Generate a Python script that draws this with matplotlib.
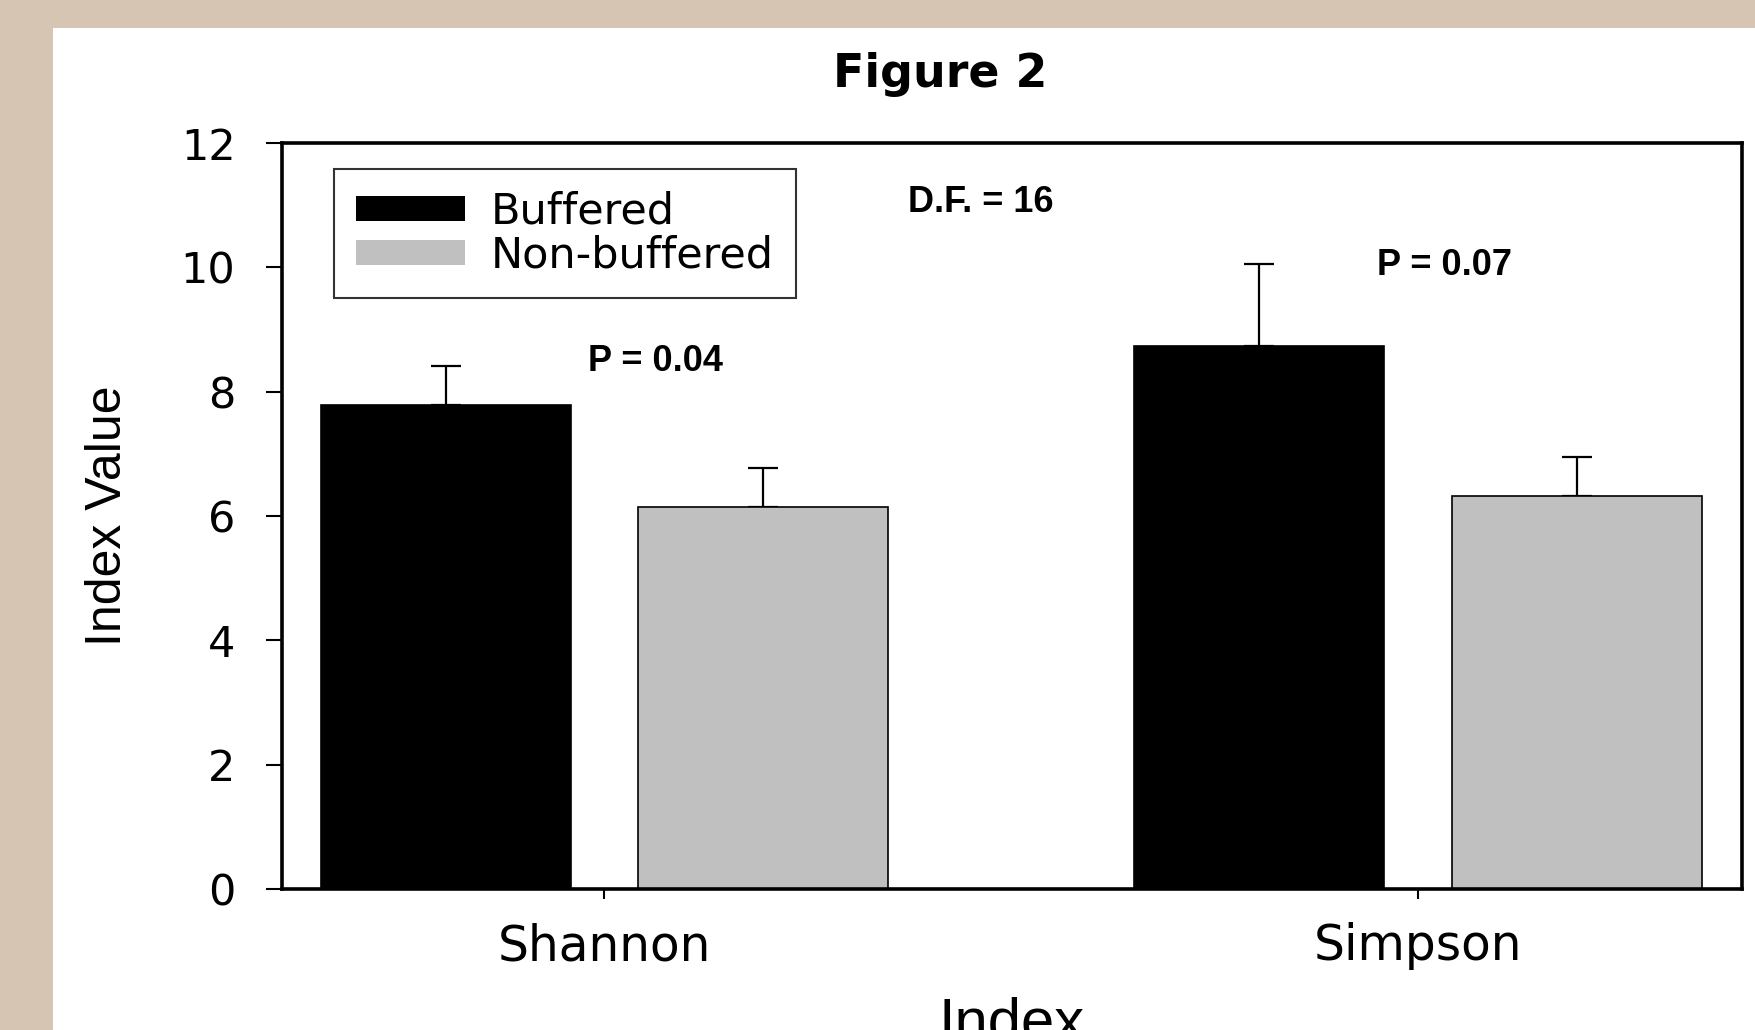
import matplotlib
matplotlib.use("Agg")
import matplotlib.pyplot as plt
from matplotlib.patches import Rectangle, Patch
import numpy as np

# ---- data ----
categories = ["Shannon", "Simpson"]
series_names = ["Buffered", "Non-buffered"]
buffered = [7.79, 8.74]
buffered_err = [0.63, 1.32]
nonbuffered = [6.14, 6.32]
nonbuffered_err = [0.64, 0.63]
yticks = [0, 2, 4, 6, 8, 10, 12]
annotations = [("P = 0.04", 0.063, 8.34), ("P = 0.07", 1.033, 9.87), ("D.F. = 16", 0.462, 10.89)]

W, H, DPI = 1755, 1030, 100
fig = plt.figure(figsize=(W / DPI, H / DPI), dpi=DPI, facecolor="#d6c5b3")
# white panel
fig.patches.append(Rectangle((53 / W, 0), 1 - 53 / W, 1 - 28 / H, transform=fig.transFigure,
                             facecolor="white", edgecolor="none", zorder=-5))

ax = fig.add_axes([282 / W, 1 - 889 / H, (1742 - 282) / W, (889 - 143) / H])
ax.set_zorder(2)
ax.set_facecolor("white")

x = np.arange(len(categories))
off = 0.195
bw = 0.307
colors = ["black", "#c0c0c0"]
ax.bar(x - off, buffered, bw, color=colors[0], edgecolor="black", linewidth=1.2, zorder=2)
ax.bar(x + off, nonbuffered, bw, color=colors[1], edgecolor="black", linewidth=1.2, zorder=2)
ax.errorbar(x - off, buffered, yerr=[np.zeros(len(buffered)), buffered_err], fmt="none",
            ecolor="black", elinewidth=1.6, capsize=10.5, capthick=1.6, zorder=1)
ax.errorbar(x + off, nonbuffered, yerr=[np.zeros(len(nonbuffered)), nonbuffered_err], fmt="none",
            ecolor="black", elinewidth=1.6, capsize=10.5, capthick=1.6, zorder=1)

ax.set_xlim(-0.396, 1.398)
ax.set_ylim(0, 12)
ax.set_yticks(yticks)
ax.set_yticklabels([str(t) for t in yticks], fontsize=31, family="DejaVu Sans")
ax.set_xticks(x)
ax.set_xticklabels(categories, fontsize=35, family="DejaVu Sans")
ax.tick_params(axis="y", direction="out", length=11.5, width=1.5, pad=22)
ax.tick_params(axis="x", direction="out", length=7, width=1.5, pad=17)
for s in ax.spines.values():
    s.set_linewidth(2.6)
    s.set_color("black")

ax.set_ylabel("Index Value", fontsize=36, family="Liberation Sans")
ax.yaxis.label.set_va("center")
ax.yaxis.set_label_coords((108 - 282) / 1460, 0.50)

for txt, xx, yy in annotations:
    ax.text(xx, yy, txt, ha="center", va="baseline", fontsize=26, fontweight="bold",
            family="Liberation Sans")

handles = [Patch(facecolor=c, edgecolor="none") for c in colors]
leg = ax.legend(handles, series_names, loc="upper left", bbox_to_anchor=(0.0356, 0.965),
                borderaxespad=0, fancybox=False, frameon=True, edgecolor="black",
                prop={"family": "DejaVu Sans", "size": 31}, handlelength=2.55, handleheight=0.52,
                handletextpad=0.6, labelspacing=0.05, borderpad=0.5)
leg.get_frame().set_linewidth(1.5)

fig.text(940 / W, 1 - 87 / H, "Figure 2", ha="center", va="baseline", fontsize=33,
         fontweight="bold", family="DejaVu Sans")
fig.text(1012 / W, 1 - 1040 / H, "Index", ha="center", va="baseline", fontsize=43,
         family="Liberation Sans")

fig.savefig("out.png", dpi=DPI, facecolor=fig.get_facecolor())
